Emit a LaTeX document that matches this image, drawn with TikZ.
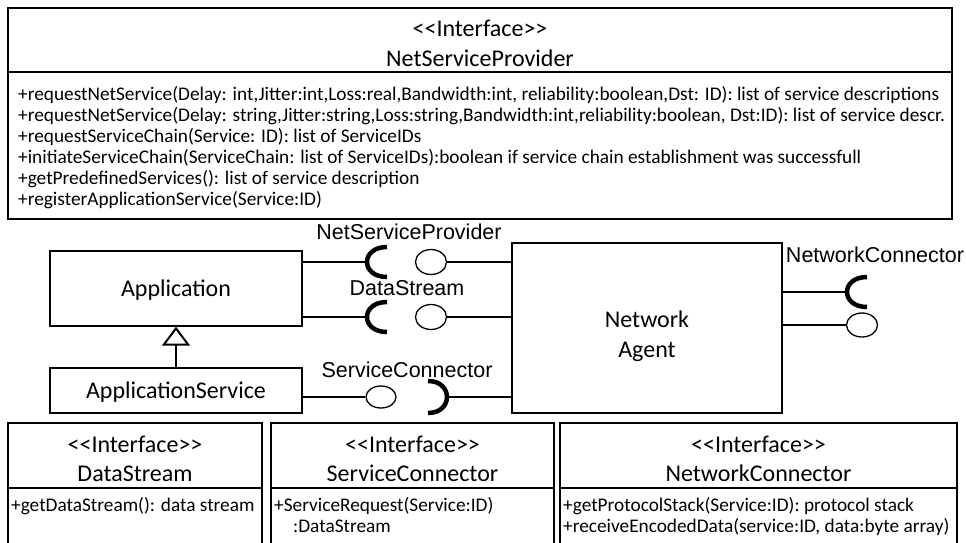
\documentclass[tikz,border=0pt]{standalone}
\usepackage{fontspec}
\newfontfamily\calfont{Carlito}
\newfontfamily\arialfont{Liberation Sans}
\usetikzlibrary{shapes.geometric, arrows.meta, positioning, shadows}
\definecolor{shadowgray}{RGB}{150,150,150}
\newcommand{\headstrut}{\rule{0pt}{23pt}}

\tikzset{
  classbox/.style={draw, line width=1.3pt, fill=white, align=center,
    font=\calfont\fontsize{24}{30}\selectfont,
    drop shadow={shadow xshift=1.2pt, shadow yshift=-1.2pt, fill=shadowgray, opacity=.3}},
  ifhead/.style={draw, line width=2.3pt, fill=white, align=center, inner sep=0pt, outer sep=0pt,
    font=\calfont\fontsize{24}{29}\selectfont},
  ifbody/.style={draw, line width=2.3pt, fill=white, inner sep=0pt, outer sep=0pt},
  ops/.style={anchor=north west, align=left, inner xsep=3pt, inner ysep=9pt,
    font=\calfont\fontsize{19.3}{21}\selectfont},
  port/.style={line width=2pt},
  lolli/.style={ellipse, draw, fill=white, line width=1.3pt, inner sep=0pt,
    minimum width=31pt, minimum height=25pt},
  iflabel/.style={font=\arialfont\fontsize{21.5}{24}\selectfont},
  socketleft/.pic={\draw[line width=4.5pt] (20,-15) .. controls (-6.7,-15) and (-6.7,15) .. (20,15);},
  socketright/.pic={\draw[line width=4.5pt] (-19,-16) .. controls (6.3,-16) and (6.3,16) .. (-19,16);}
}

\begin{document}
\begin{tikzpicture}[x=1pt, y=-1pt]
\useasboundingbox (0,0) rectangle (966,542);
\clip (0,0) rectangle (966,542);

% interface NetServiceProvider on top
\node[ifhead, font=\calfont\fontsize{24}{30}\selectfont, minimum width=944pt, minimum height=64pt, anchor=north west] (nspHead) at (8,8)
  {\headstrut<<Interface>>\\NetServiceProvider};
\node[ifbody, line width=1.5pt, minimum width=944pt, minimum height=147pt, below=0pt of nspHead] (nspBody) {};
\node[ops, inner xsep=10pt, inner ysep=14pt] (nspOps) at (nspBody.north west)
  {+requestNetService(Delay: int,Jitter:int,Loss:real,Bandwidth:int, reliability:boolean,Dst: ID): list of service descriptions\\
   +requestNetService(Delay: string,Jitter:string,Loss:string,Bandwidth:int,reliability:boolean, Dst:ID): list of service descr.\\
   +requestServiceChain(Service: ID): list of ServiceIDs\\
   +initiateServiceChain(ServiceChain: list of ServiceIDs):boolean if service chain establishment was successfull\\
   +getPredefinedServices(): list of service description\\
   +registerApplicationService(Service:ID)};

% components
\node[classbox, text depth=0pt, minimum width=252pt, minimum height=75pt] (app) at (176,288.5) {Application};
\node[classbox, text depth=0pt, minimum width=252pt, minimum height=45pt] (appSvc) at (176,390.5) {ApplicationService};
\node[classbox, minimum width=270pt, minimum height=170pt] (agent) at (647,328) {\rule{0pt}{34pt}Network\\Agent};

\draw[port, -{Triangle[open, length=19pt, width=28pt]}] (appSvc) -- (app);

% ports: sockets and lollipops
\coordinate (nspReq) at (367,262);
\node[lolli] (nspProv) at (431,262) {};
\coordinate (dsReq) at (367,317);
\node[lolli] (dsProv) at (431,317) {};
\node[lolli, minimum width=30pt, minimum height=22pt] (scProv) at (381,397) {};
\coordinate (scReq) at (447,397);
\coordinate (ncReq) at (847,292);
\node[lolli, minimum height=24pt] (ncProv) at (862,325) {};

\draw[port] (app.east |- nspReq) -- (nspReq);
\draw[port] (nspProv) -- (agent.west |- nspProv);
\draw[port] (app.east |- dsReq) -- (dsReq);
\draw[port] (dsProv) -- (agent.west |- dsProv);
\draw[port] (appSvc.east |- scProv) -- (scProv);
\draw[port] (scReq) -- (agent.west |- scReq);
\draw[port] (agent.east |- ncReq) -- (ncReq);
\draw[port] (agent.east |- ncProv) -- (ncProv);

\pic at (nspReq) {socketleft};
\pic at (dsReq) {socketleft};
\pic at (scReq) {socketright};
\pic at (ncReq) {socketleft};

\node[iflabel] (nspLabel) at (409,232) {NetServiceProvider};
\node[iflabel] (dsLabel) at (407,288) {DataStream};
\node[iflabel] (scLabel) at (407,370) {ServiceConnector};
\node[iflabel] (ncLabel) at (875,255) {NetworkConnector};

% interfaces at the bottom
\node[ifhead, minimum width=254pt, minimum height=65pt, anchor=north west] (dsHead) at (8,423)
  {\headstrut<<Interface>>\\DataStream};
\node[ifbody, minimum width=254pt, minimum height=70pt, below=0pt of dsHead] (dsBody) {};
\node[ops] (dsOps) at (dsBody.north west) {+getDataStream(): data stream};

\node[ifhead, minimum width=283pt, minimum height=65pt, anchor=north west] (scHead) at (271,423)
  {\headstrut<<Interface>>\\ServiceConnector};
\node[ifbody, minimum width=283pt, minimum height=70pt, below=0pt of scHead] (scBody) {};
\node[ops] (scOps) at (scBody.north west) {+ServiceRequest(Service:ID)\\\hspace*{19pt}:DataStream};

\node[ifhead, minimum width=397pt, minimum height=65pt, anchor=north west] (ncHead) at (560,423)
  {\headstrut<<Interface>>\\NetworkConnector};
\node[ifbody, minimum width=397pt, minimum height=70pt, below=0pt of ncHead] (ncBody) {};
\node[ops] (ncOps) at (ncBody.north west)
  {+getProtocolStack(Service:ID): protocol stack\\+receiveEncodedData(service:ID, data:byte array)};
\end{tikzpicture}
\end{document}
